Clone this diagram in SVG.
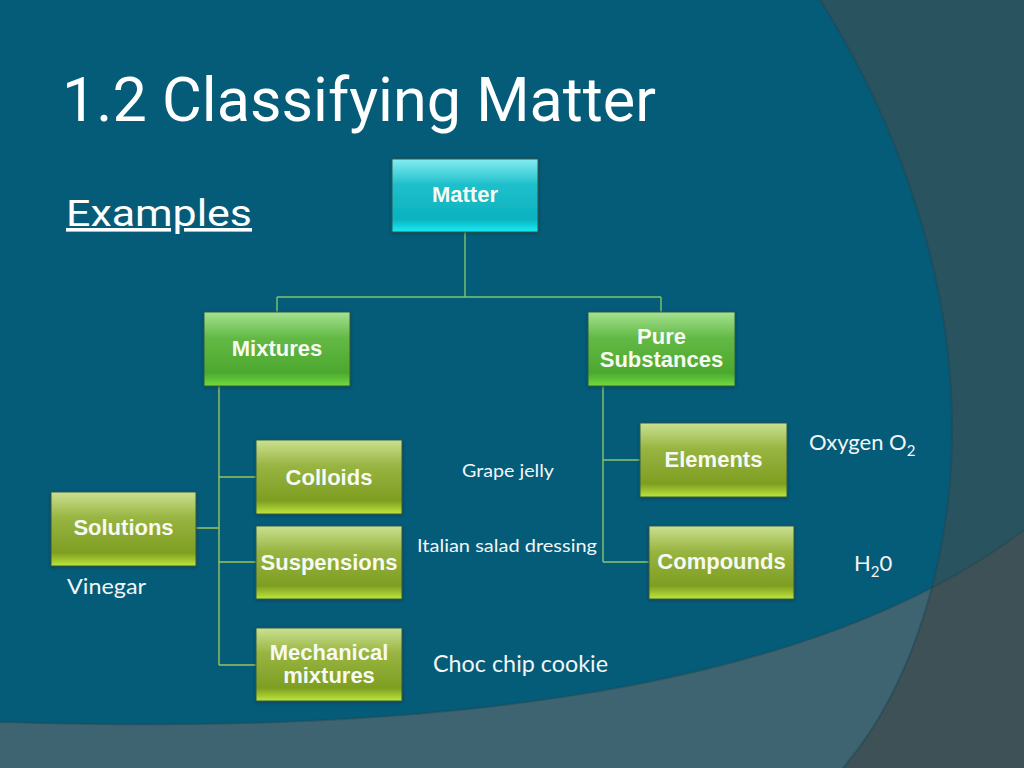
<svg xmlns="http://www.w3.org/2000/svg" width="1024" height="768" viewBox="0 0 1024 768">
<defs>
<style>
.lbl{font-family:"Liberation Sans",Arial,sans-serif;font-weight:bold;font-size:22px;fill:#F7FAF2;text-anchor:middle}
.ex{font-family:Lato,"Open Sans",sans-serif;fill:#F2F6F8}
.title{font-family:"Liberation Sans Narrow","Roboto","Liberation Sans",sans-serif;fill:#FFFFFF}
.conn{fill:none;stroke-width:1.4}
.box{stroke:#2C5A4A;stroke-width:1;filter:url(#sh)}
</style>
<linearGradient id="gCyan" x1="0" y1="0" x2="0" y2="1">
<stop offset="0" stop-color="#86ECF2"/><stop offset="0.35" stop-color="#1FC0CB"/><stop offset="0.82" stop-color="#0BB2BF"/><stop offset="1" stop-color="#18ECF6"/>
</linearGradient>
<linearGradient id="gGreen" x1="0" y1="0" x2="0" y2="1">
<stop offset="0" stop-color="#A6E290"/><stop offset="0.35" stop-color="#63B945"/><stop offset="0.82" stop-color="#4CA82E"/><stop offset="1" stop-color="#70DC40"/>
</linearGradient>
<linearGradient id="gOlive" x1="0" y1="0" x2="0" y2="1">
<stop offset="0" stop-color="#CBE190"/><stop offset="0.35" stop-color="#98B441"/><stop offset="0.82" stop-color="#7E9E22"/><stop offset="1" stop-color="#BEE63A"/>
</linearGradient>
<filter id="sh" x="-10%" y="-10%" width="120%" height="125%">
<feDropShadow dx="0" dy="1" stdDeviation="1.5" flood-color="#0A2F38" flood-opacity="0.6"/>
</filter>
<clipPath id="aboveBand">
<path d="M0,0 L1024,0 L1024,530 C800,700 400,735 0,722 Z"/>
</clipPath>
</defs>

<g id="background">
<rect x="0" y="0" width="1024" height="768" fill="#3E5157"/>
<path d="M0,0 L1024,0 L1024,530 C800,700 400,735 0,722 Z" fill="#2A5360"/>
<path d="M0,0 L820,0 C890,110 950,260 952,420 C954,560 910,690 843,768 L0,768 Z" fill="#3D6470"/>
<path d="M0,0 L820,0 C890,110 950,260 952,420 C954,560 910,690 843,768 L0,768 Z" fill="#045C78" clip-path="url(#aboveBand)"/>
<path d="M820,0 C890,110 950,260 952,420 C954,560 910,690 843,768" fill="none" stroke="#1D4553" stroke-width="2" opacity="0.5"/>
<path d="M1024,530 C800,700 400,735 0,722" fill="none" stroke="#1D4553" stroke-width="2" opacity="0.4"/>
</g>

<g id="title">
<text class="title" x="62" y="121" font-size="62" textLength="594" lengthAdjust="spacingAndGlyphs">1.2 Classifying Matter</text>
<text class="title" x="66" y="226" font-size="36" text-decoration="underline" textLength="186" lengthAdjust="spacingAndGlyphs">Examples</text>
</g>

<g id="connectors">
<path class="conn" stroke="#7CC46E" d="M465,232 V297 M277,297 H661 M277,297 V312 M661,297 V312"/>
<path class="conn" stroke="#9CC45A" d="M219,386 V665 M219,477 H256 M219,562 H256 M219,665 H256 M196,528 H219"/>
<path class="conn" stroke="#8CC468" d="M603,386 V562 M603,460 H640 M603,562 H649"/>
</g>

<g id="node-matter">
<rect class="box" x="392" y="159" width="146" height="73" fill="url(#gCyan)"/>
<text class="lbl" x="465" y="202">Matter</text>
</g>
<g id="node-mixtures">
<rect class="box" x="204" y="312" width="146" height="74" fill="url(#gGreen)"/>
<text class="lbl" x="277" y="356">Mixtures</text>
</g>
<g id="node-pure-substances">
<rect class="box" x="588" y="312" width="147" height="74" fill="url(#gGreen)"/>
<text class="lbl" x="661.5" y="344">Pure</text>
<text class="lbl" x="661.5" y="367">Substances</text>
</g>
<g id="node-colloids">
<rect class="box" x="256" y="440" width="146" height="74" fill="url(#gOlive)"/>
<text class="lbl" x="329" y="485">Colloids</text>
</g>
<g id="node-solutions">
<rect class="box" x="51" y="492" width="145" height="74" fill="url(#gOlive)"/>
<text class="lbl" x="123.5" y="535">Solutions</text>
</g>
<g id="node-suspensions">
<rect class="box" x="256" y="526" width="146" height="73" fill="url(#gOlive)"/>
<text class="lbl" x="329" y="570">Suspensions</text>
</g>
<g id="node-mechanical">
<rect class="box" x="256" y="628" width="146" height="73" fill="url(#gOlive)"/>
<text class="lbl" x="329" y="660">Mechanical</text>
<text class="lbl" x="329" y="683">mixtures</text>
</g>
<g id="node-elements">
<rect class="box" x="640" y="423" width="147" height="74" fill="url(#gOlive)"/>
<text class="lbl" x="713.5" y="467">Elements</text>
</g>
<g id="node-compounds">
<rect class="box" x="649" y="526" width="145" height="73" fill="url(#gOlive)"/>
<text class="lbl" x="721.5" y="569">Compounds</text>
</g>

<g id="examples">
<text class="ex" x="462" y="477" font-size="18" textLength="92" lengthAdjust="spacingAndGlyphs">Grape jelly</text>
<text class="ex" x="417" y="552" font-size="18" textLength="180" lengthAdjust="spacingAndGlyphs">Italian salad dressing</text>
<text class="ex" x="67" y="594" font-size="22" textLength="79" lengthAdjust="spacingAndGlyphs">Vinegar</text>
<text class="ex" x="433" y="672" font-size="23" textLength="175" lengthAdjust="spacingAndGlyphs">Choc chip cookie</text>
<text class="ex" x="809" y="450" font-size="22">Oxygen O<tspan font-size="15" dy="6">2</tspan></text>
<text class="ex" x="854" y="571" font-size="22">H<tspan font-size="15" dy="6">2</tspan><tspan dy="-6">0</tspan></text>
</g>
</svg>
